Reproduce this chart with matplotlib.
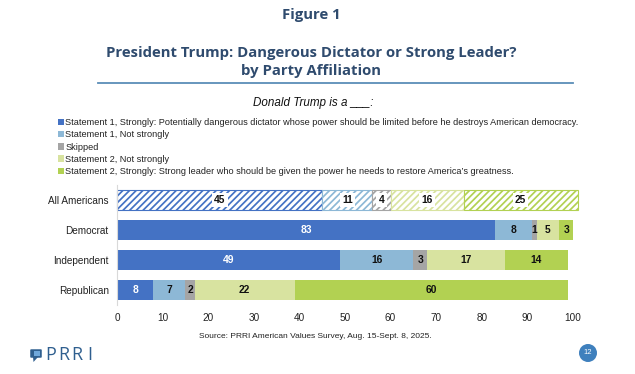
import matplotlib.pyplot as plt
from matplotlib.lines import Line2D
from matplotlib.patches import Circle, FancyBboxPatch, Patch, Polygon, Rectangle

W, H = 635, 374

groups = ["All Americans", "Democrat", "Independent", "Republican"]
strong_1 = [45, 83, 49, 8]
weak_1 = [11, 8, 16, 7]
skipped = [4, 1, 3, 2]
weak_2 = [16, 5, 17, 22]
strong_2 = [25, 3, 14, 60]

series = [strong_1, weak_1, skipped, weak_2, strong_2]
labels = [
    "Statement 1, Strongly: Potentially dangerous dictator whose power should be limited before he destroys American democracy.",
    "Statement 1, Not strongly",
    "Skipped",
    "Statement 2, Not strongly",
    "Statement 2, Strongly: Strong leader who should be given the power he needs to restore America\u2019s greatness.",
]
colors = ["#4472C4", "#8DB8D6", "#A5A5A5", "#D8E3A0", "#B2D152"]
xticks = list(range(0, 101, 10))

TITLE_COLOR = "#2F4B6E"
LOGO_COLOR = "#2F5F8F"
BODY_FONT = "Liberation Sans"

plt.rcParams["font.family"] = BODY_FONT
plt.rcParams["hatch.linewidth"] = 1.25

fig = plt.figure(figsize=(W / 100, H / 100), dpi=100, facecolor="white")


def fx(px):
    return px / W


def fy(px):
    return 1 - px / H


# titles
fig.text(fx(311.5), fy(15), "Figure 1", ha="center", va="center", family="Open Sans",
         fontsize=10.7, fontweight="bold", color=TITLE_COLOR)
fig.text(fx(311), fy(53), "President Trump: Dangerous Dictator or Strong Leader?", ha="center", va="center",
         family="Open Sans", fontsize=10.7, fontweight="bold", color=TITLE_COLOR)
fig.text(fx(311), fy(71.5), "by Party Affiliation", ha="center", va="center", family="Open Sans",
         fontsize=10.7, fontweight="bold", color=TITLE_COLOR)
fig.add_artist(Line2D([fx(98), fx(573)], [fy(83), fy(83)], color="#5B8DB8", lw=1.3))
fig.text(fx(313), fy(103), "Donald Trump is a ___:", ha="center", va="center", fontsize=8.4, style="italic",
         color="#111111")

# bars
ax = fig.add_axes([fx(117), fy(305), fx(456), 120 / H])
ypos = list(range(len(groups)))
for j, group in enumerate(groups):
    left = 0
    for i, values in enumerate(series):
        val = values[j]
        if j == 0:
            ax.barh(j, val, left=left, height=0.68, facecolor="white", edgecolor=colors[i],
                    hatch="/////", linewidth=0.8, clip_on=False)
            ax.text(left + val / 2, j, str(val), ha="center", va="center", fontsize=7.4, fontweight="bold",
                    color="#111111", bbox=dict(facecolor="white", edgecolor="none", pad=1.6))
        else:
            ax.barh(j, val, left=left, height=0.68, color=colors[i], linewidth=0, clip_on=False)
            txt = "white" if i == 0 else "#111111"
            ax.text(left + val / 2, j, str(val), ha="center", va="center", fontsize=7.4, fontweight="bold",
                    color=txt)
        left += val

ax.set_xlim(0, 100)
ax.set_ylim(3.5, -0.5)
ax.set_yticks(ypos)
ax.set_yticklabels(groups, fontsize=7.2, color="#222222")
ax.set_xticks(xticks)
ax.tick_params(axis="both", length=0, pad=6, labelsize=7.2, labelcolor="#222222")
ax.tick_params(axis="x", pad=5.5)
for side in ["top", "right", "bottom"]:
    ax.spines[side].set_visible(False)
ax.spines["left"].set_color("#D9D9D9")
ax.spines["left"].set_linewidth(0.8)

# legend
handles = [Patch(facecolor=c, edgecolor="none", label=l) for c, l in zip(colors, labels)]
fig.legend(handles=handles, loc="upper left", bbox_to_anchor=(fx(58), fy(118)), frameon=False, ncol=1,
           fontsize=6.55, labelspacing=0.36, handlelength=0.7, handleheight=0.7, handletextpad=0.1,
           borderpad=0, borderaxespad=0, labelcolor="#222222")

fig.text(fx(199), fy(337), "Source: PRRI American Values Survey, Aug. 15-Sept. 8, 2025.", ha="left", va="center",
         fontsize=6.0, color="#222222")

# logo and page number
for ch, x in zip("PRRI", [45.5, 58, 71, 87]):
    fig.text(fx(x), fy(355.5), ch, ha="left", va="center", family="Open Sans", fontsize=13, color=LOGO_COLOR)
fig.add_artist(FancyBboxPatch((fx(31.5), fy(357)), fx(9), 7 / H, boxstyle="round,pad=0.002", facecolor=LOGO_COLOR,
                              edgecolor="none", transform=fig.transFigure))
fig.add_artist(Polygon([[fx(33), fy(357)], [fx(38), fy(357)], [fx(33.5), fy(362)]], facecolor=LOGO_COLOR,
                       edgecolor="none", transform=fig.transFigure))
fig.add_artist(Rectangle((fx(33.5), fy(356)), fx(6), 5.5 / H, facecolor="#6FA8DC", edgecolor="none",
                         transform=fig.transFigure))
fig.add_artist(Circle((588, H - 353), 9, facecolor="#3F80BD", edgecolor="none", transform=None))
fig.text(fx(588), fy(352.5), "12", ha="center", va="center", fontsize=5.5, color="white")

fig.savefig("out.png", dpi=100, facecolor="white")
